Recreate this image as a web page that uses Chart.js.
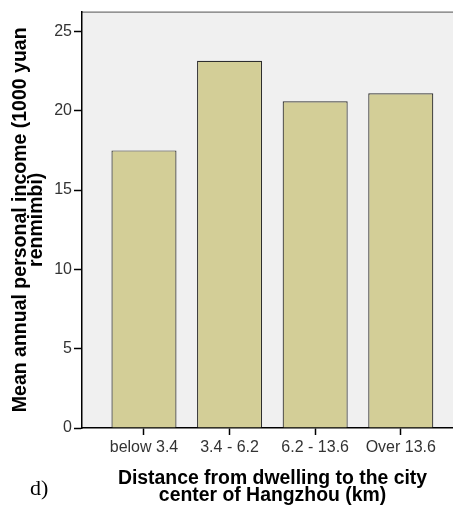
<!DOCTYPE html>
<html>
<head>
<meta charset="utf-8">
<script src="https://cdn.jsdelivr.net/npm/chart.js@4/dist/chart.umd.min.js"></script>
<style>
  html, body { margin: 0; padding: 0; background: #fff; overflow: hidden; }
  canvas { display: block; }
</style>
</head>
<body>
<canvas id="barChart" width="463" height="511"></canvas>
<script>
// values
const categories = ['below 3.4', '3.4 - 6.2', '6.2 - 13.6', 'Over 13.6'];
const meanIncome = [17.5, 23.15, 20.6, 21.1];
const yTicks = [0, 5, 10, 15, 20, 25];

// plot background and top frame line, plus the panel letter
const framePlugin = {
  id: 'frame',
  beforeDraw(chart) {
    const { ctx, chartArea: a } = chart;
    ctx.save();
    ctx.fillStyle = '#f0f0f0';
    ctx.fillRect(a.left, a.top, a.right - a.left, a.bottom - a.top);
    ctx.strokeStyle = '#555';
    ctx.lineWidth = 1;
    ctx.beginPath();
    ctx.moveTo(a.left, a.top + 0.5);
    ctx.lineTo(a.right, a.top + 0.5);
    ctx.stroke();
    ctx.restore();
  },
  afterDraw(chart) {
    const ctx = chart.ctx;
    ctx.save();
    ctx.fillStyle = '#000';
    ctx.font = '22px "Liberation Serif", serif';
    ctx.textBaseline = 'alphabetic';
    ctx.fillText('d)', 30, 495);
    ctx.restore();
  }
};

const barCtx = document.getElementById('barChart').getContext('2d');

new Chart(barCtx, {
  type: 'bar',
  data: {
    datasets: [{
      data: meanIncome.map((v, i) => ({ x: i, y: v })),
      backgroundColor: '#d3ce97',
      borderColor: '#2e2e2e',
      borderWidth: 1.2,
      categoryPercentage: 1,
      barPercentage: 0.76
    }]
  },
  options: {
    responsive: false,
    animation: false,
    layout: { padding: { top: 8, right: 0, left: 0, bottom: 0 } },
    plugins: { legend: { display: false }, tooltip: { enabled: false } },
    scales: {
      x: {
        type: 'linear',
        offset: false,
        min: -0.724,
        max: 3.727,
        afterBuildTicks: s => { s.ticks = categories.map((c, i) => ({ value: i })); },
        afterFit: s => { s.height = 83; },
        grid: { offset: false, drawOnChartArea: false, drawTicks: true, tickLength: 7, tickWidth: 1.5, color: '#000' },
        border: { display: true, color: '#000', width: 1.5 },
        ticks: {
          color: '#333',
          padding: 3,
          maxRotation: 0,
          autoSkip: false,
          font: { family: '"Liberation Sans", Arial', size: 16 },
          callback: v => categories[v]
        },
        title: {
          display: true,
          text: ['Distance from dwelling to the city', 'center of Hangzhou (km)'],
          color: '#000',
          font: { family: '"Liberation Sans", Arial', size: 19.4, weight: 'bold', lineHeight: '17px' },
          padding: { top: 0, bottom: 6.5 }
        }
      },
      y: {
        min: 0,
        max: 26.25,
        afterBuildTicks: s => { s.ticks = yTicks.map(v => ({ value: v })); },
        afterFit: s => { s.width = 82; },
        grid: { drawOnChartArea: false, drawTicks: true, tickLength: 8, tickWidth: 1.5, color: '#000' },
        border: { display: true, color: '#000', width: 1.5 },
        ticks: {
          color: '#333',
          padding: 2,
          font: { family: '"Liberation Sans", Arial', size: 16 }
        },
        title: {
          display: true,
          text: ['Mean annual personal income (1000 yuan', 'renmimbi)'],
          color: '#000',
          font: { family: '"Liberation Sans", Arial', size: 19.5, weight: 'bold', lineHeight: '16px' },
          padding: { top: 13, bottom: 0 }
        }
      }
    }
  },
  plugins: [framePlugin]
});
</script>
</body>
</html>
